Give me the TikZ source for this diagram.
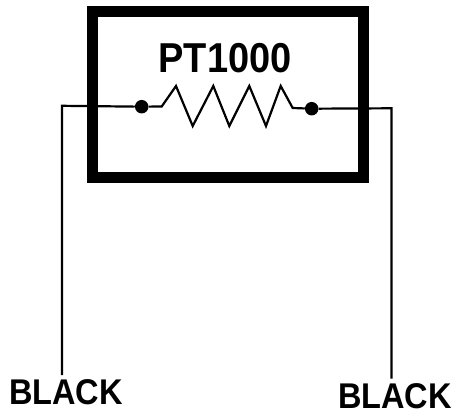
\documentclass[tikz,border=0pt]{standalone}
\usepackage{fontspec}
\setmainfont{Liberation Sans}
\begin{document}
\begin{tikzpicture}[x=1pt,y=-1pt,
  wire/.style={draw=black,line width=2.2pt,line join=miter},
  frame/.style={draw=black,line width=11.3pt,line join=miter},
  term/.style={circle,fill=black,inner sep=0pt,minimum size=13.5pt},
  title/.style={font=\bfseries\fontsize{38}{38}\selectfont,inner sep=0pt,text=black,yscale=1.1,transform shape},
  lead/.style={font=\bfseries\fontsize{32.5}{32.5}\selectfont,inner sep=0pt,text=black,yscale=1.1,transform shape}]
\useasboundingbox (0,0) rectangle (456,412);
\node[draw=none,minimum width=270pt,minimum height=165.5pt,inner sep=0pt] (box) at (228,94.4) {};
\draw[frame] (box.north west) rectangle (box.south east);
\node[title] (name) at (225,58) {PT1000};
\node[term] (d1) at (141.7,106.7) {};
\node[term] (d2) at (311.7,108.7) {};
\node[lead,anchor=south] (l1) at (66,405.3) {BLACK};
\node[lead,anchor=south] (l2) at (395,409) {BLACK};
\coordinate (c1) at (62,105.8);
\coordinate (c2) at (391.5,108.3);
\coordinate (e1) at (62,375);
\coordinate (e2) at (391.5,378.5);
\draw[wire] (e1) -- (c1) -- (d1);
\draw[wire] (e2) -- (c2) -- (d2);
\draw[wire] (d1) -- (161.7,106.5) -- (176,86) -- (192.7,126) -- (213.3,86) -- (229.3,126) -- (249.3,86) -- (266,126) -- (280.7,86) -- (292.7,108) -- (d2);
\end{tikzpicture}
\end{document}
